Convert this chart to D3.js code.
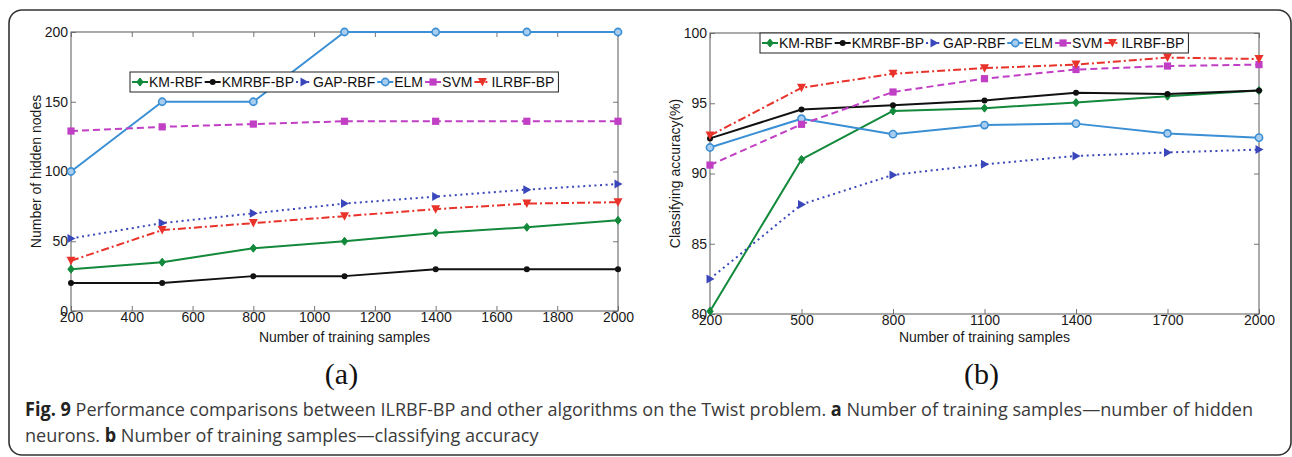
<!DOCTYPE html>
<html>
<head>
<meta charset="utf-8">
<script src="https://cdn.jsdelivr.net/npm/d3@7"></script>
<style>
  html, body { margin: 0; padding: 0; background: #fff; }
  svg { display: block; }
</style>
</head>
<body>
<svg id="chart" width="1292" height="457"></svg>
<script>
// ---------------- DATA ----------------
const samples = [200, 500, 800, 1100, 1400, 1700, 2000];
const seriesNames = ["KM-RBF", "KMRBF-BP", "GAP-RBF", "ELM", "SVM", "ILRBF-BP"];

const xTicksA = [200, 400, 600, 800, 1000, 1200, 1400, 1600, 1800, 2000];
const yTicksA = [0, 50, 100, 150, 200];
const xTicksB = [200, 500, 800, 1100, 1400, 1700, 2000];
const yTicksB = [80, 85, 90, 95, 100];

// (a) number of hidden nodes
const nodesKMRBF   = [30, 35, 45, 50, 56, 60, 65];
const nodesKMRBFBP = [20, 20, 25, 25, 30, 30, 30];
const nodesGAPRBF  = [52, 63, 70, 77, 82, 87, 91];
const nodesELM     = [100, 150, 150, 200, 200, 200, 200];
const nodesSVM     = [129, 132, 134, 136, 136, 136, 136];
const nodesILRBFBP = [36, 58, 63, 68, 73, 77, 78];

// (b) classifying accuracy (%)
const accKMRBF   = [80.2, 91.0, 94.45, 94.65, 95.05, 95.5, 95.9];
const accKMRBFBP = [92.5, 94.55, 94.85, 95.2, 95.75, 95.65, 95.9];
const accGAPRBF  = [82.5, 87.8, 89.9, 90.65, 91.25, 91.5, 91.7];
const accELM     = [91.85, 93.9, 92.8, 93.45, 93.55, 92.85, 92.55];
const accSVM     = [90.6, 93.5, 95.8, 96.75, 97.4, 97.65, 97.75];
const accILRBFBP = [92.7, 96.1, 97.1, 97.5, 97.75, 98.25, 98.15];

const captionLine1 = [["Fig. 9", true], [" Performance comparisons between ILRBF-BP and other algorithms on the Twist problem. ", false], ["a", true], [" Number of training samples\u2014number of hidden", false]];
const captionLine2 = [["neurons. ", false], ["b", true], [" Number of training samples\u2014classifying accuracy", false]];

// ---------------- STYLES ----------------
const styles = {
  "KM-RBF":   { color: "#13893b", dash: null,       marker: "diamond" },
  "KMRBF-BP": { color: "#111111", dash: null,       marker: "dot" },
  "GAP-RBF":  { color: "#3a47bb", dash: "2,3.6",    marker: "triRight" },
  "ELM":      { color: "#3b8fd4", dash: null,       marker: "circle" },
  "SVM":      { color: "#c03fc4", dash: "7,4",      marker: "square" },
  "ILRBF-BP": { color: "#e8322a", dash: "8,3,2,3",  marker: "triDown" }
};

const svg = d3.select("#chart");
svg.append("rect").attr("width", 1292).attr("height", 457).attr("fill", "#fff");

// outer rounded frame
svg.append("rect")
  .attr("x", 9).attr("y", 10).attr("width", 1282).attr("height", 445)
  .attr("rx", 13).attr("ry", 13)
  .attr("fill", "none").attr("stroke", "#333").attr("stroke-width", 1.6);

const FONT = "'Liberation Sans', Arial, Helvetica, sans-serif";

function drawMarker(g, type, x, y, color) {
  switch (type) {
    case "diamond":
      g.append("path").attr("d", `M${x},${y-4}L${x+3.2},${y}L${x},${y+4}L${x-3.2},${y}Z`)
        .attr("fill", color).attr("stroke", color).attr("stroke-width", 1);
      break;
    case "dot":
      g.append("circle").attr("cx", x).attr("cy", y).attr("r", 3).attr("fill", color);
      break;
    case "triRight":
      g.append("path").attr("d", `M${x-3.5},${y-4.5}L${x+4.5},${y}L${x-3.5},${y+4.5}Z`)
        .attr("fill", color);
      break;
    case "circle":
      g.append("circle").attr("cx", x).attr("cy", y).attr("r", 3.6)
        .attr("fill", "#a9cdee").attr("stroke", color).attr("stroke-width", 1.6);
      break;
    case "square":
      g.append("rect").attr("x", x-3.6).attr("y", y-3.6).attr("width", 7.2).attr("height", 7.2)
        .attr("fill", color);
      break;
    case "triDown":
      g.append("path").attr("d", `M${x-4.5},${y-4}L${x+4.5},${y-4}L${x},${y+4.5}Z`)
        .attr("fill", color);
      break;
  }
}

function panel(cfg) {
  const { left, right, top, bottom, yDomain, xTicks, yTicks, series, yLabel, yLabelX, legend, tag } = cfg;
  const x = d3.scaleLinear().domain([200, 2000]).range([left, right]);
  const y = d3.scaleLinear().domain(yDomain).range([bottom, top]);
  const g = svg.append("g");

  const styleAxis = (sel) => {
    sel.select(".domain").remove();
    sel.selectAll(".tick line").attr("stroke", "#777").attr("stroke-width", 1);
    sel.selectAll(".tick text").attr("font-family", FONT).attr("font-size", 14).attr("fill", "#1a1a1a");
  };
  g.append("g").attr("transform", `translate(0,${bottom})`)
    .call(d3.axisBottom(x).tickValues(xTicks).tickSize(-5).tickPadding(1).tickFormat(d3.format("d")))
    .call(styleAxis);
  g.append("g").attr("transform", `translate(0,${top})`)
    .call(d3.axisTop(x).tickValues(xTicks).tickSize(-5).tickFormat(""))
    .call(styleAxis);
  g.append("g").attr("transform", `translate(${left},0)`)
    .call(d3.axisLeft(y).tickValues(yTicks).tickSize(-5).tickPadding(3).tickFormat(d3.format("d")))
    .call(styleAxis);
  g.append("g").attr("transform", `translate(${right},0)`)
    .call(d3.axisRight(y).tickValues(yTicks).tickSize(-5).tickFormat(""))
    .call(styleAxis);

  g.append("rect").attr("x", left).attr("y", top).attr("width", right - left).attr("height", bottom - top)
    .attr("fill", "none").attr("stroke", "#666").attr("stroke-width", 1.1);

  const line = d3.line().x((d, i) => x(samples[i])).y(d => y(d));
  seriesNames.forEach((name, si) => {
    const st = styles[name];
    const vals = series[si];
    g.append("path").attr("d", line(vals))
      .attr("fill", "none").attr("stroke", st.color).attr("stroke-width", 2)
      .attr("stroke-dasharray", st.dash).attr("stroke-linejoin", "round");
    vals.forEach((v, i) => drawMarker(g, st.marker, x(samples[i]), y(v), st.color));
  });

  g.append("text").attr("x", (left + right) / 2).attr("y", 342)
    .attr("text-anchor", "middle").attr("font-family", FONT).attr("font-size", 14).attr("fill", "#1a1a1a")
    .text("Number of training samples");
  g.append("text").attr("transform", `translate(${yLabelX},${(top + bottom) / 2}) rotate(-90)`)
    .attr("text-anchor", "middle").attr("font-family", FONT).attr("font-size", 14).attr("fill", "#1a1a1a")
    .text(yLabel);

  g.append("text").attr("x", (left + right) / 2 - 3).attr("y", 384)
    .attr("text-anchor", "middle").attr("font-family", "'Liberation Serif', 'Times New Roman', serif")
    .attr("font-size", 30).attr("fill", "#111").text(tag);

  const lg = g.append("g");
  const box = lg.append("rect").attr("x", legend.x).attr("y", legend.y).attr("height", 20)
    .attr("fill", "#fff").attr("stroke", "#222").attr("stroke-width", 1);
  let cx = legend.x + 2;
  const ly = legend.y + 10;
  seriesNames.forEach((name) => {
    const st = styles[name];
    lg.append("line").attr("x1", cx).attr("x2", cx + 16).attr("y1", ly).attr("y2", ly)
      .attr("stroke", st.color).attr("stroke-width", 2).attr("stroke-dasharray", st.dash);
    drawMarker(lg, st.marker, cx + 8, ly, st.color);
    cx += 17;
    const t = lg.append("text").attr("x", cx).attr("y", ly + 5)
      .attr("font-family", FONT).attr("font-size", 14).attr("fill", "#111").text(name);
    cx += t.node().getComputedTextLength() + 2;
  });
  box.attr("width", cx - legend.x + 2);
}

panel({
  left: 71, right: 618, top: 32, bottom: 311,
  yDomain: [0, 200], xTicks: xTicksA, yTicks: yTicksA,
  series: [nodesKMRBF, nodesKMRBFBP, nodesGAPRBF, nodesELM, nodesSVM, nodesILRBFBP],
  yLabel: "Number of hidden nodes", yLabelX: 41,
  legend: { x: 130, y: 72 }, tag: "(a)"
});

panel({
  left: 710, right: 1259, top: 33, bottom: 314,
  yDomain: [80, 100], xTicks: xTicksB, yTicks: yTicksB,
  series: [accKMRBF, accKMRBFBP, accGAPRBF, accELM, accSVM, accILRBFBP],
  yLabel: "Classifying accuracy(%)", yLabelX: 680,
  legend: { x: 760, y: 33 }, tag: "(b)"
});

// caption
const CAPFONT = "'Open Sans', 'Noto Sans', sans-serif";
function captionLine(parts) {
  const grp = svg.append("g");
  const t = grp.append("text").attr("x", 0).attr("y", 0)
    .attr("font-family", CAPFONT).attr("font-size", 19).attr("fill", "#3a3a3a")
    .style("white-space", "pre");
  parts.forEach(([s, b]) => {
    t.append("tspan").attr("font-weight", b ? "bold" : "normal")
      .attr("fill", b ? "#222" : "#3a3a3a").text(s);
  });
  return { grp, w: t.node().getComputedTextLength() };
}
const c1 = captionLine(captionLine1);
const c2 = captionLine(captionLine2);
const s = 1229 / c1.w;
c1.grp.attr("transform", `translate(25,416) scale(${s},1)`);
c2.grp.attr("transform", `translate(25,442) scale(${s},1)`);
</script>
</body>
</html>
